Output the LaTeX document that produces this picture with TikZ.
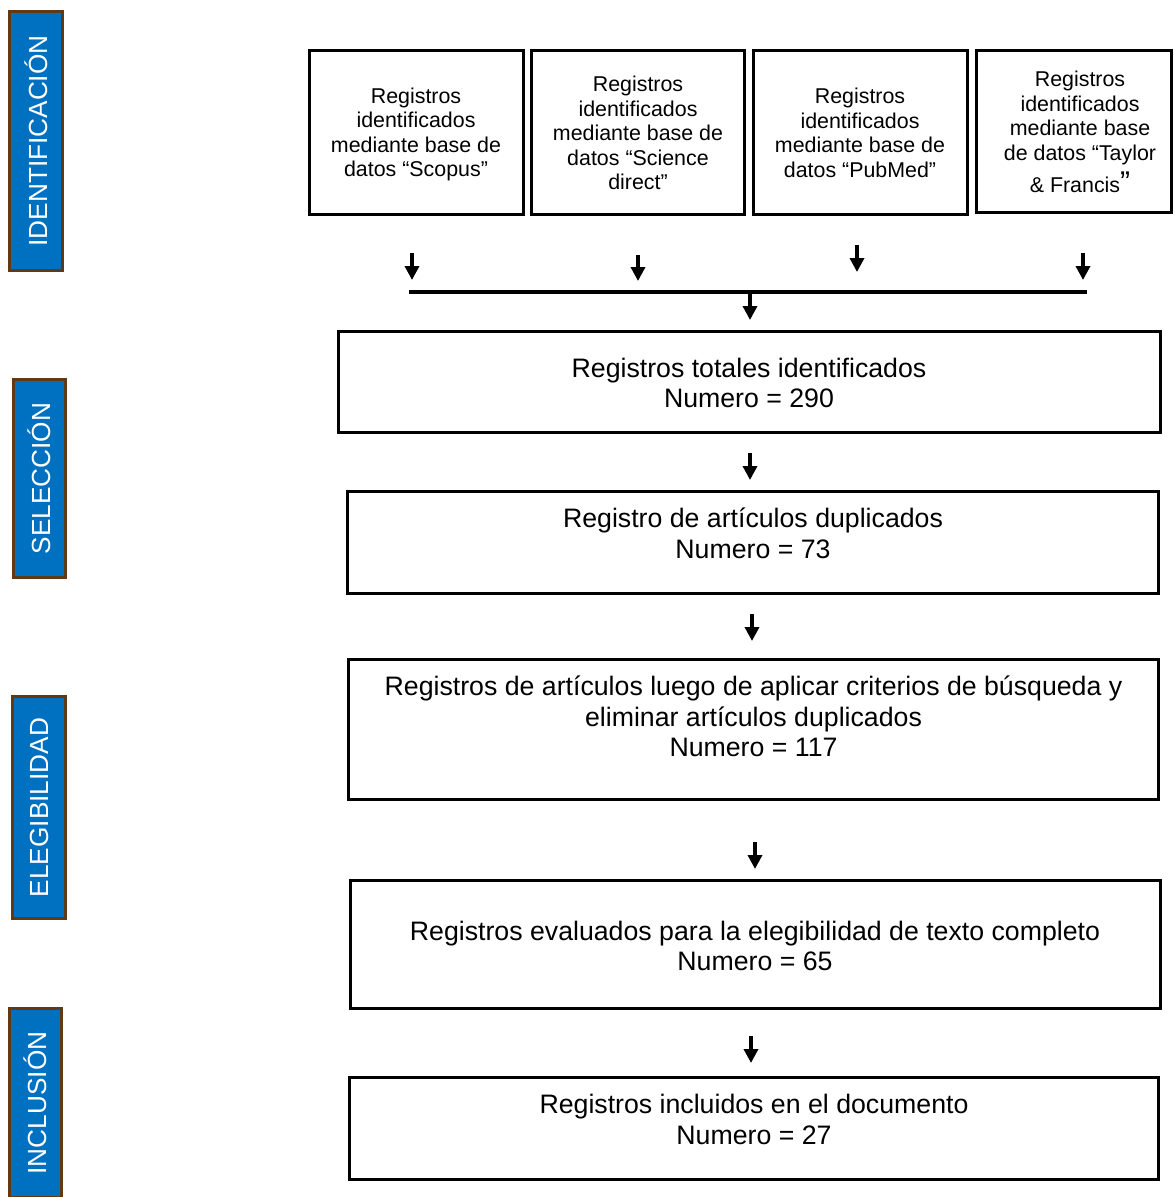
\documentclass[tikz,border=0pt]{standalone}
\usepackage{fontspec}
\setmainfont{Liberation Sans}
\usetikzlibrary{arrows.meta}
\definecolor{sideblue}{RGB}{0,112,192}
\definecolor{sidebrown}{RGB}{99,57,20}
\begin{document}
\begin{tikzpicture}[x=1pt,y=-1pt,
  sidebox/.style={draw=sidebrown, line width=3pt, fill=sideblue, text=white, rotate=90, inner sep=0pt, font=\fontsize{26.2}{30}\selectfont},
  srcbox/.style={draw, line width=2.8pt, inner sep=0pt},
  mainbox/.style={draw, line width=2.8pt, inner sep=0pt},
  srctext/.style={align=center, font=\fontsize{21.4}{24.5}\selectfont, inner sep=0pt},
  maintext/.style={align=center, font=\fontsize{26.7}{30.5}\selectfont, inner sep=0pt},
  flow/.style={line width=3.4pt, -{Triangle[width=14pt,length=14pt]}},
]
\useasboundingbox (0,0) rectangle (1175,1197);

% side labels
\node[sidebox, minimum width=259pt, minimum height=53pt] (sid) at (36,141) {IDENTIFICACIÓN};
\node[sidebox, minimum width=198pt, minimum height=52pt] (ssel) at (39.5,478.5) {SELECCIÓN};
\node[sidebox, minimum width=222pt, minimum height=53pt] (sele) at (39,807.5) {ELEGIBILIDAD};
\node[sidebox, minimum width=189pt, minimum height=52pt] (sinc) at (35.5,1103) {INCLUSIÓN};

% source boxes
\node[srcbox, minimum width=214.5pt, minimum height=164.5pt] (b1) at (416.5,132.5) {};
\node[srcbox, minimum width=213.5pt, minimum height=164.5pt] (b2) at (638,132.5) {};
\node[srcbox, minimum width=214.5pt, minimum height=164.5pt] (b3) at (860.5,132.5) {};
\node[srcbox, minimum width=195.5pt, minimum height=162.5pt] (b4) at (1074,131.5) {};
\node[srctext] (t1) at (416,134.5) {Registros\\identificados\\mediante base de\\datos “Scopus”};
\node[srctext] (t2) at (638,133) {Registros\\identificados\\mediante base de\\datos “Science\\direct”};
\node[srctext] (t3) at (860,133) {Registros\\identificados\\mediante base de\\datos “PubMed”};
\node[srctext] (t4) at (1080,132) {Registros\\identificados\\mediante base\\de datos “Taylor\\[6pt]\& Francis{\fontsize{30}{30}\selectfont ”}};

% main boxes
\node[mainbox, minimum width=822.5pt, minimum height=101.5pt] (m1) at (749.5,382) {};
\node[mainbox, minimum width=811.5pt, minimum height=102.5pt] (m2) at (753,542.5) {};
\node[mainbox, minimum width=810.5pt, minimum height=140.5pt] (m3) at (753.5,729.5) {};
\node[mainbox, minimum width=810.5pt, minimum height=128.5pt] (m4) at (755.5,944.5) {};
\node[mainbox, minimum width=809.5pt, minimum height=102.5pt] (m5) at (754,1128.5) {};
\node[maintext] (mt1) at (749,383) {Registros totales identificados\\Numero = 290};
\node[maintext] (mt2) at (753,533.5) {Registro de artículos duplicados\\Numero = 73};
\node[maintext] (mt3) at (753.5,716.5) {Registros de artículos luego de aplicar criterios de búsqueda y\\eliminar artículos duplicados\\Numero = 117};
\node[maintext] (mt4) at (755,946) {Registros evaluados para la elegibilidad de texto completo\\Numero = 65};
\node[maintext] (mt5) at (754,1119.5) {Registros incluidos en el documento\\Numero = 27};

% arrow coordinates
\coordinate (a1s) at (412,253); \coordinate (a1e) at (412,280);
\coordinate (a2s) at (638,255); \coordinate (a2e) at (638,281);
\coordinate (a3s) at (857,245); \coordinate (a3e) at (857,272);
\coordinate (a4s) at (1083,253); \coordinate (a4e) at (1083,280);
\coordinate (hl) at (409,292); \coordinate (hr) at (1087,292);
\coordinate (hm) at (750,292); \coordinate (hme) at (750,320);
\coordinate (f1s) at (750,453); \coordinate (f1e) at (750,480);
\coordinate (f2s) at (752,614); \coordinate (f2e) at (752,641);
\coordinate (f3s) at (755,842); \coordinate (f3e) at (755,869);
\coordinate (f4s) at (751,1036); \coordinate (f4e) at (751,1063);

\draw[flow] (a1s) -- (a1e);
\draw[flow] (a2s) -- (a2e);
\draw[flow] (a3s) -- (a3e);
\draw[flow] (a4s) -- (a4e);
\draw[line width=4pt] (hl) -- (hr);
\draw[flow] (hm) -- (hme);
\draw[flow] (f1s) -- (f1e);
\draw[flow] (f2s) -- (f2e);
\draw[flow] (f3s) -- (f3e);
\draw[flow] (f4s) -- (f4e);
\end{tikzpicture}
\end{document}
